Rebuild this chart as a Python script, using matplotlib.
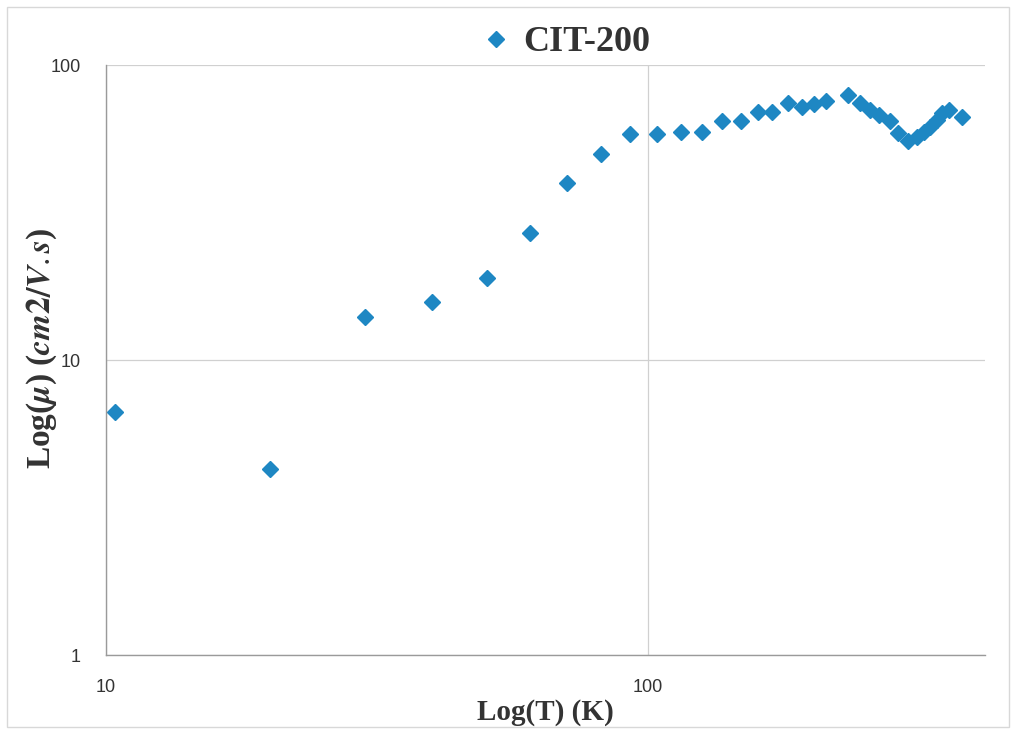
import matplotlib.pyplot as plt
from matplotlib.patches import Rectangle
from matplotlib.ticker import FixedLocator, NullLocator, FixedFormatter

# temperature (K) and mobility (cm2/V.s)
temperature = [10.4, 20.1, 30.1, 40.0, 50.5, 60.8, 71.1, 82.2, 93, 104,
               115.5, 126, 137, 149, 160, 170, 182, 193, 203, 214,
               235, 247, 258, 268, 280, 290, 303, 315, 324, 333,
               343, 350, 360, 381]
mobility = [6.66, 4.27, 14.0, 15.7, 19.0, 26.9, 39.8, 49.9, 58.4, 58.4,
            59.3, 59.3, 64.6, 64.6, 69.3, 69.3, 74.3, 72.1, 73.8, 75.5,
            79.1, 74.3, 70.4, 67.7, 64.6, 58.8, 55.2, 57.0, 59.3, 61.6,
            65.1, 68.8, 70.4, 66.7]
series_name = "CIT-200"
y_ticks = [1, 10, 100]
x_ticks = [10, 100]

plt.rcParams['mathtext.fontset'] = 'stix'

fig = plt.figure(figsize=(10.16, 7.34), dpi=100)
ax = fig.add_axes([0.1043, 0.1076, 0.8652, 0.8038])

ax.plot(temperature, mobility, linestyle='none', marker='D', markersize=8.5,
        color='#1e87c3', label=series_name)

ax.set_xscale('log')
ax.set_yscale('log')
ax.set_xlim(10, 420)
ax.set_ylim(1, 100)

ax.xaxis.set_major_locator(FixedLocator(x_ticks))
ax.xaxis.set_minor_locator(NullLocator())
ax.xaxis.set_major_formatter(FixedFormatter([str(t) for t in x_ticks]))
ax.yaxis.set_major_locator(FixedLocator(y_ticks))
ax.yaxis.set_minor_locator(NullLocator())
ax.yaxis.set_major_formatter(FixedFormatter([str(t) for t in y_ticks]))

tick_font = ['Liberation Sans Narrow', 'Liberation Sans', 'DejaVu Sans']
for lab in ax.get_xticklabels() + ax.get_yticklabels():
    lab.set_family(tick_font)
    lab.set_fontsize(13)
    lab.set_color('#333333')
ax.tick_params(axis='both', length=0)
ax.tick_params(axis='x', pad=17)
ax.tick_params(axis='y', pad=18)

ax.grid(True, which='major', color='#d0d0d0', linewidth=0.9)
for s in ['top', 'right']:
    ax.spines[s].set_visible(False)
for s in ['left', 'bottom']:
    ax.spines[s].set_color('#9a9a9a')
    ax.spines[s].set_linewidth(1.0)

ax.set_xlabel('Log(T) (K)', family='Liberation Serif', fontweight='bold',
              fontsize=21, color='#333333')
ax.xaxis.set_label_coords(0.5, -0.074)
ax.set_ylabel(r'Log($\boldsymbol{\mu}$) ($\boldsymbol{cm2/V.s}$)',
              family='Liberation Serif', fontweight='bold', fontsize=24,
              color='#333333')
ax.yaxis.set_label_coords(-0.053, 0.52)

leg = ax.legend(loc='center', bbox_to_anchor=(0.522, 1.038), frameon=False,
                prop={'family': 'Liberation Serif', 'weight': 'bold', 'size': 26},
                handlelength=0.9, handletextpad=0.3, markerscale=0.9)
for t in leg.get_texts():
    t.set_color('#333333')

fig.patches.append(Rectangle((0.007, 0.009), 0.986, 0.982, transform=fig.transFigure,
                             fill=False, edgecolor='#d8d8d8', linewidth=1))

fig.savefig('out.png', dpi=100, facecolor='white')
